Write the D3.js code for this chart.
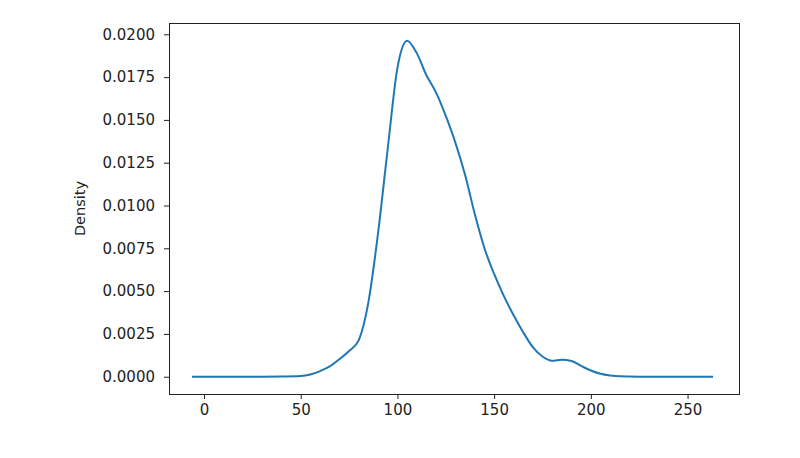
<!DOCTYPE html>
<html>
<head>
<meta charset="utf-8">
<script src="https://cdn.jsdelivr.net/npm/d3@7"></script>
<style>
  body { margin: 0; background: #fff; }
  text { font-family: "DejaVu Sans", sans-serif; fill: #000; }
</style>
</head>
<body>
<div id="chart"></div>
<script>
// values
var xs = [-5.7, 0, 10, 20, 30, 40, 50, 55, 60, 65, 70, 75, 80, 85, 90, 95, 100, 105, 110,
          115, 120, 125, 130, 135, 140, 145, 150, 155, 160, 165, 170, 175, 180, 185, 190,
          195, 200, 205, 210, 215, 220, 230, 240, 250, 262.7];
var density = [0, 0, 0, 0, 0, 0.00001, 0.00004, 0.00013, 0.00033, 0.0006, 0.00102, 0.0015,
               0.00214, 0.00436, 0.0084, 0.01334, 0.01804, 0.01963, 0.0189, 0.01761, 0.01659,
               0.01523, 0.01366, 0.01178, 0.0095, 0.0075, 0.006, 0.00472, 0.0036, 0.0026,
               0.00173, 0.00118, 0.00093, 0.00099, 0.00092, 0.00063, 0.00036, 0.00017, 0.00007,
               0.00002, 0.00001, 0, 0, 0, 0];
var xTicks = [0, 50, 100, 150, 200, 250];
var yTicks = [0, 0.0025, 0.005, 0.0075, 0.01, 0.0125, 0.015, 0.0175, 0.02];

var width = 800, height = 458;
var plotLeft = 169, plotRight = 739, plotTop = 23, plotBottom = 394;

var svg = d3.select("#chart").append("svg")
    .attr("width", width)
    .attr("height", height);

var x = d3.scaleLinear().domain([-18.1, 276.6]).range([plotLeft, plotRight]);
var y = d3.scaleLinear().domain([-0.00101, 0.02066]).range([plotBottom, plotTop]);

var pts = xs.map(function(v, i) { return [v, density[i]]; });

var line = d3.line()
    .x(function(d) { return x(d[0]); })
    .y(function(d) { return y(d[1]); })
    .curve(d3.curveMonotoneX);

svg.append("path")
    .datum(pts)
    .attr("d", line)
    .attr("fill", "none")
    .attr("stroke", "#1f77b4")
    .attr("stroke-width", 2)
    .attr("stroke-linejoin", "round")
    .attr("stroke-linecap", "square");

var xAxis = d3.axisBottom(x).tickValues(xTicks).tickSize(5).tickPadding(5)
    .tickFormat(d3.format("d"));
var yAxis = d3.axisLeft(y).tickValues(yTicks).tickSize(5).tickPadding(9)
    .tickFormat(d3.format(".4f"));

var gx = svg.append("g").attr("transform", "translate(0," + plotBottom + ")").call(xAxis);
var gy = svg.append("g").attr("transform", "translate(" + plotLeft + ",0)").call(yAxis);

[gx, gy].forEach(function(g) {
    g.select(".domain").remove();
    g.selectAll(".tick line").attr("stroke", "#222").attr("stroke-width", 1);
    g.selectAll(".tick text").style("font-size", "15px").style("fill", "#222")
        .attr("font-family", "DejaVu Sans, sans-serif");
});

// frame
svg.append("rect")
    .attr("x", plotLeft + 0.5).attr("y", plotTop + 0.5)
    .attr("width", plotRight - plotLeft).attr("height", plotBottom - plotTop)
    .attr("fill", "none")
    .attr("stroke", "#222")
    .attr("stroke-width", 1);

svg.append("text")
    .attr("transform", "translate(85," + (plotTop + plotBottom) / 2 + ")rotate(-90)")
    .attr("text-anchor", "middle")
    .style("font-size", "14.5px")
    .style("fill", "#222")
    .text("Density");
</script>
</body>
</html>
